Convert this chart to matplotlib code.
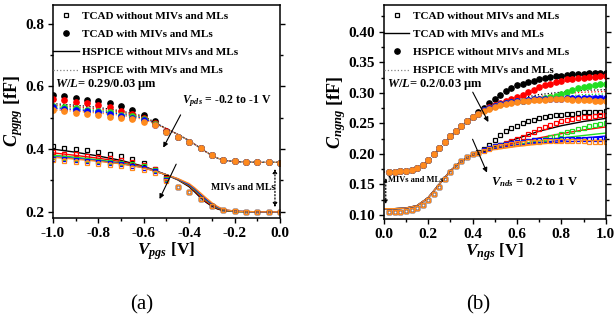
import numpy as np
import matplotlib
matplotlib.use('Agg')
import matplotlib.pyplot as plt
from matplotlib.lines import Line2D
from matplotlib.ticker import MultipleLocator, FormatStrFormatter

plt.rcParams['font.family'] = ['Liberation Serif', 'DejaVu Serif']
plt.rcParams['font.weight'] = 'bold'
plt.rcParams['axes.unicode_minus'] = False
plt.rcParams['mathtext.fontset'] = 'custom'
plt.rcParams['mathtext.rm'] = 'Liberation Serif:bold'
plt.rcParams['mathtext.it'] = 'Liberation Serif:italic:bold'
plt.rcParams['mathtext.bf'] = 'Liberation Serif:bold'

# Vpds / Vnds sweep colours (black -> orange)
colors = ['black', 'red', '#22dd22', 'blue', '#ff8a1c']

# ---------------- (a) PMOS: Cpgpg vs Vpgs ----------------
vpgs = [-1.0, -0.95, -0.9, -0.85, -0.8, -0.75, -0.7, -0.65, -0.6, -0.55, -0.5,
        -0.45, -0.4, -0.35, -0.3, -0.25, -0.2, -0.15, -0.1, -0.05, 0.0]

# TCAD without MIVs/MLs (open squares): per-colour head (-1..-0.5) + shared tail
a_sq_head = [
    [0.410, 0.405, 0.401, 0.396, 0.391, 0.386, 0.378, 0.368, 0.356, 0.338, 0.310],
    [0.390, 0.386, 0.383, 0.379, 0.375, 0.371, 0.366, 0.360, 0.350, 0.336, 0.307],
    [0.375, 0.372, 0.369, 0.366, 0.363, 0.360, 0.357, 0.353, 0.345, 0.332, 0.304],
    [0.370, 0.367, 0.364, 0.361, 0.358, 0.355, 0.352, 0.347, 0.340, 0.330, 0.302],
    [0.365, 0.362, 0.358, 0.355, 0.352, 0.348, 0.345, 0.340, 0.334, 0.325, 0.298],
]
a_sq_tail = [0.280, 0.262, 0.240, 0.217, 0.206, 0.202, 0.200, 0.200, 0.199, 0.198]

# TCAD with MIVs/MLs (filled circles)
a_ci_head = [
    [0.572, 0.569, 0.564, 0.558, 0.554, 0.547, 0.537, 0.526, 0.510, 0.490, 0.458],
    [0.559, 0.556, 0.550, 0.546, 0.541, 0.533, 0.523, 0.512, 0.500, 0.484, 0.457],
    [0.537, 0.533, 0.530, 0.525, 0.522, 0.517, 0.510, 0.505, 0.495, 0.480, 0.456],
    [0.533, 0.528, 0.525, 0.520, 0.517, 0.512, 0.506, 0.500, 0.492, 0.478, 0.456],
    [0.524, 0.520, 0.516, 0.512, 0.508, 0.504, 0.500, 0.495, 0.488, 0.476, 0.455],
]
a_ci_tail = [0.440, 0.423, 0.402, 0.382, 0.366, 0.361, 0.359, 0.358, 0.358, 0.357]

# HSPICE curves
vpgs_line = [-1.0, -0.9, -0.8, -0.7, -0.6, -0.5, -0.45, -0.4, -0.375, -0.35,
             -0.325, -0.3, -0.275, -0.25, -0.2, -0.1, 0.0]
a_hs_wo = [
    [0.400, 0.390, 0.378, 0.364, 0.345, 0.318, 0.302, 0.280, 0.263, 0.245, 0.230, 0.218, 0.209, 0.204, 0.201, 0.200, 0.200],
    [0.388, 0.380, 0.371, 0.360, 0.344, 0.318, 0.303, 0.283, 0.267, 0.249, 0.233, 0.221, 0.211, 0.205, 0.201, 0.200, 0.200],
    [0.381, 0.374, 0.366, 0.356, 0.342, 0.318, 0.304, 0.285, 0.270, 0.253, 0.237, 0.224, 0.213, 0.206, 0.201, 0.200, 0.200],
    [0.376, 0.370, 0.363, 0.354, 0.341, 0.318, 0.305, 0.287, 0.273, 0.256, 0.240, 0.226, 0.215, 0.207, 0.202, 0.200, 0.200],
    [0.374, 0.368, 0.361, 0.353, 0.340, 0.318, 0.306, 0.290, 0.276, 0.260, 0.244, 0.229, 0.217, 0.208, 0.202, 0.200, 0.200],
]
a_hs_w_head = [
    [0.545, 0.540, 0.533, 0.522, 0.505, 0.465],
    [0.540, 0.535, 0.528, 0.518, 0.502, 0.465],
    [0.535, 0.530, 0.524, 0.515, 0.500, 0.465],
    [0.530, 0.526, 0.520, 0.512, 0.498, 0.465],
    [0.525, 0.521, 0.515, 0.508, 0.495, 0.465],
]
a_hs_w_tail = [0.447, 0.427, 0.415, 0.403, 0.391, 0.380, 0.371, 0.365, 0.360, 0.358, 0.358]

# ---------------- (b) NMOS: Cngng vs Vngs ----------------
vngs = [0.025, 0.05, 0.075, 0.1, 0.125, 0.15, 0.175, 0.2, 0.225, 0.25,
        0.275, 0.3, 0.325, 0.35, 0.375, 0.4, 0.425, 0.45, 0.475, 0.5,
        0.525, 0.55, 0.575, 0.6, 0.625, 0.65, 0.675, 0.7, 0.725, 0.75,
        0.775, 0.8, 0.825, 0.85, 0.875, 0.9, 0.925, 0.95, 0.975, 1.0]

b_sq_head = [0.104, 0.104, 0.105, 0.106, 0.108, 0.111, 0.116, 0.124, 0.134, 0.146,
             0.158, 0.170, 0.180, 0.188, 0.194, 0.199]
b_sq_tail = [
    [0.203, 0.208, 0.215, 0.223, 0.230, 0.237, 0.242, 0.246, 0.250, 0.253, 0.256, 0.258,
     0.260, 0.262, 0.263, 0.264, 0.265, 0.266, 0.267, 0.268, 0.268, 0.269, 0.269, 0.270],
    [0.202, 0.206, 0.209, 0.212, 0.215, 0.218, 0.221, 0.224, 0.228, 0.232, 0.236, 0.240,
     0.244, 0.247, 0.250, 0.253, 0.255, 0.257, 0.259, 0.260, 0.261, 0.262, 0.263, 0.263],
    [0.202, 0.206, 0.209, 0.212, 0.214, 0.216, 0.218, 0.219, 0.220, 0.221, 0.222, 0.223,
     0.225, 0.227, 0.229, 0.232, 0.235, 0.238, 0.241, 0.243, 0.245, 0.247, 0.249, 0.250],
    [0.202, 0.206, 0.209, 0.212, 0.214, 0.216, 0.218, 0.219, 0.220, 0.221, 0.222, 0.222,
     0.223, 0.223, 0.223, 0.224, 0.224, 0.224, 0.224, 0.225, 0.225, 0.225, 0.225, 0.225],
    [0.201, 0.205, 0.208, 0.211, 0.213, 0.215, 0.216, 0.217, 0.218, 0.219, 0.220, 0.220,
     0.221, 0.221, 0.221, 0.221, 0.221, 0.221, 0.221, 0.221, 0.220, 0.220, 0.220, 0.220],
]

b_ci_head = [0.170, 0.170, 0.171, 0.172, 0.174, 0.177, 0.182, 0.190, 0.200, 0.210,
             0.220, 0.229, 0.238, 0.246, 0.253, 0.260]
b_ci_tail = [
    [0.268, 0.275, 0.283, 0.290, 0.297, 0.303, 0.308, 0.312, 0.315, 0.318, 0.320, 0.322,
     0.324, 0.326, 0.327, 0.328, 0.329, 0.330, 0.331, 0.331, 0.332, 0.332, 0.333, 0.333],
    [0.266, 0.271, 0.276, 0.280, 0.284, 0.287, 0.290, 0.293, 0.297, 0.301, 0.305, 0.309,
     0.312, 0.315, 0.318, 0.320, 0.322, 0.323, 0.324, 0.325, 0.326, 0.326, 0.327, 0.327],
    [0.266, 0.271, 0.275, 0.278, 0.281, 0.283, 0.285, 0.286, 0.287, 0.288, 0.289, 0.290,
     0.291, 0.293, 0.295, 0.298, 0.301, 0.304, 0.307, 0.309, 0.311, 0.313, 0.314, 0.315],
    [0.266, 0.271, 0.275, 0.278, 0.281, 0.283, 0.285, 0.286, 0.287, 0.288, 0.289, 0.289,
     0.290, 0.290, 0.290, 0.290, 0.291, 0.291, 0.291, 0.291, 0.291, 0.291, 0.292, 0.292],
    [0.265, 0.270, 0.274, 0.277, 0.280, 0.282, 0.284, 0.285, 0.286, 0.287, 0.288, 0.288,
     0.288, 0.289, 0.289, 0.289, 0.289, 0.288, 0.288, 0.288, 0.288, 0.287, 0.287, 0.287],
]

vngs_line = [0.0, 0.05, 0.1, 0.15, 0.2, 0.25, 0.3, 0.35, 0.4, 0.45, 0.5, 0.6, 0.7, 0.8, 0.9, 1.0]
b_hs_wo_head = [0.110, 0.110, 0.111, 0.115, 0.128, 0.150, 0.172, 0.188, 0.198, 0.205]
b_hs_wo_tail = [
    [0.212, 0.225, 0.237, 0.246, 0.253, 0.258],
    [0.210, 0.218, 0.226, 0.233, 0.239, 0.244],
    [0.209, 0.215, 0.221, 0.226, 0.230, 0.234],
    [0.208, 0.213, 0.218, 0.222, 0.226, 0.229],
    [0.207, 0.212, 0.216, 0.219, 0.221, 0.223],
]
vngs_dot = [0.0, 0.05, 0.1, 0.15, 0.2, 0.25, 0.3, 0.35, 0.4, 0.5, 0.6, 0.7, 0.8, 0.9, 1.0]
b_hs_w_head = [0.170, 0.170, 0.172, 0.176, 0.188, 0.208, 0.228, 0.245, 0.260]
b_hs_w_tail = [
    [0.278, 0.290, 0.297, 0.301, 0.304, 0.305],
    [0.277, 0.288, 0.294, 0.298, 0.301, 0.302],
    [0.276, 0.286, 0.291, 0.294, 0.297, 0.298],
    [0.275, 0.284, 0.289, 0.292, 0.294, 0.295],
    [0.274, 0.283, 0.286, 0.288, 0.289, 0.290],
]

legend_labels = ['TCAD without MIVs and MLs', 'TCAD with MIVs and MLs',
                 'HSPICE without MIVs and MLs', 'HSPICE with MIVs and MLs']

fig = plt.figure(figsize=(6.15, 3.26), dpi=100)
ax1 = fig.add_axes([0.0862, 0.331, 0.369, 0.654])
ax2 = fig.add_axes([0.624, 0.328, 0.361, 0.657])

ms_sq = 3.4
ms_ci = 3.8


def style_axes(ax):
    for s in ax.spines.values():
        s.set_linewidth(1.1)
    ax.tick_params(which='both', direction='out', left=True, bottom=True,
                   right=True, top=False, labelsize=11, width=1.0)
    ax.tick_params(which='major', length=3.5, pad=3)
    ax.tick_params(which='minor', length=2)
    for lab in ax.get_xticklabels() + ax.get_yticklabels():
        lab.set_fontweight('bold')


# ---- panel (a) ----
for i, c in enumerate(colors):
    ax1.plot(vpgs_line, np.concatenate([a_hs_w_head[i], a_hs_w_tail]), ':', color=c, lw=0.9)
for i, c in enumerate(colors):
    ax1.plot(vpgs_line, a_hs_wo[i], '-', color=c, lw=1.0)
for i, c in enumerate(colors):
    ax1.plot(vpgs, np.concatenate([a_sq_head[i], a_sq_tail]), 's', ms=ms_sq,
             mfc='none', mec=c, mew=0.9, ls='none')
for i, c in enumerate(colors):
    ax1.plot(vpgs, np.concatenate([a_ci_head[i], a_ci_tail]), 'o', ms=ms_ci,
             color=c, ls='none')

ax1.set_xlim(-1.0, 0.0)
ax1.set_ylim(0.18, 0.86)
ax1.xaxis.set_major_locator(MultipleLocator(0.2))
ax1.xaxis.set_minor_locator(MultipleLocator(0.1))
ax1.yaxis.set_major_locator(MultipleLocator(0.2))
ax1.yaxis.set_minor_locator(MultipleLocator(0.1))
ax1.xaxis.set_major_formatter(FormatStrFormatter('%.1f'))
ax1.yaxis.set_major_formatter(FormatStrFormatter('%.1f'))
style_axes(ax1)
ax1.set_xlabel(r'$V_{pgs}$ [V]', fontsize=12.5, fontweight='bold', labelpad=0)
ax1.set_ylabel(r'$C_{pgpg}$ [fF]', fontsize=13, fontweight='bold', labelpad=0)

h_sq = Line2D([], [], marker='s', ms=ms_sq, mfc='none', mec='k', mew=0.9, ls='none')
h_ci = Line2D([], [], marker='o', ms=ms_ci, color='k', ls='none')
h_solid = Line2D([], [], color='k', lw=1.0)
h_dot = Line2D([], [], color='gray', lw=0.9, ls=':')
leg_kw = dict(loc='upper left', frameon=False, handlelength=2.3,
              handletextpad=0.3, borderpad=0, borderaxespad=0, labelspacing=0.75,
              prop={'weight': 'bold', 'size': 8})
ax1.legend([h_sq, h_ci, h_solid, h_dot], legend_labels,
           bbox_to_anchor=(0.0, 0.97), **leg_kw)

ax1.text(-0.99, 0.605, r'$W/L$= 0.29/0.03 μm', fontsize=9, va='center', ha='left')
ax1.text(-0.43, 0.553, r'$V_{pds}$ = -0.2 to -1 V', fontsize=8.5, va='center', ha='left')
arr = dict(arrowstyle='-|>', color='k', lw=0.8, mutation_scale=7)
ax1.annotate('', xy=(-0.52, 0.397), xytext=(-0.432, 0.517), arrowprops=arr)
ax1.annotate('', xy=(-0.536, 0.233), xytext=(-0.452, 0.36), arrowprops=arr)
ax1.text(-0.163, 0.279, 'MIVs and MLs', fontsize=7, ha='center', va='center')
ax1.annotate('', xy=(-0.022, 0.346), xytext=(-0.022, 0.206),
             arrowprops=dict(arrowstyle='<|-|>', color='k', lw=0.9, ls=':', mutation_scale=6))

# ---- panel (b) ----
for i, c in enumerate(colors):
    ax2.plot(vngs_dot, np.concatenate([b_hs_w_head, b_hs_w_tail[i]]), ':', color=c, lw=0.9)
for i, c in enumerate(colors):
    ax2.plot(vngs_line, np.concatenate([b_hs_wo_head, b_hs_wo_tail[i]]), '-', color=c, lw=1.0)
for i, c in enumerate(colors):
    ax2.plot(vngs, np.concatenate([b_sq_head, b_sq_tail[i]]), 's', ms=ms_sq,
             mfc='none', mec=c, mew=0.9, ls='none')
for i, c in enumerate(colors):
    ax2.plot(vngs, np.concatenate([b_ci_head, b_ci_tail[i]]), 'o', ms=ms_ci,
             color=c, ls='none')

ax2.set_xlim(0.0, 1.0)
ax2.set_ylim(0.093, 0.444)
ax2.xaxis.set_major_locator(MultipleLocator(0.2))
ax2.xaxis.set_minor_locator(MultipleLocator(0.1))
ax2.yaxis.set_major_locator(MultipleLocator(0.05))
ax2.yaxis.set_minor_locator(MultipleLocator(0.025))
ax2.xaxis.set_major_formatter(FormatStrFormatter('%.1f'))
ax2.yaxis.set_major_formatter(FormatStrFormatter('%.2f'))
style_axes(ax2)
ax2.set_xlabel(r'$V_{ngs}$ [V]', fontsize=12.5, fontweight='bold', labelpad=0)
ax2.set_ylabel(r'$C_{ngng}$ [fF]', fontsize=13, fontweight='bold', labelpad=0)

ax2.legend([h_sq, h_solid, h_ci, h_dot], legend_labels,
           bbox_to_anchor=(0.0, 0.97), **leg_kw)

ax2.text(0.015, 0.313, r'$W/L$= 0.2/0.03 μm', fontsize=9, va='center', ha='left')
ax2.annotate('', xy=(0.477, 0.248), xytext=(0.395, 0.305), arrowprops=arr)
ax2.annotate('', xy=(0.47, 0.165), xytext=(0.395, 0.228), arrowprops=arr)
ax2.text(0.485, 0.154, r'$V_{nds}$ = 0.2 to 1 V', fontsize=9, va='center', ha='left')
ax2.text(0.02, 0.157, 'MIVs and MLs', fontsize=6, va='center', ha='left')
ax2.annotate('', xy=(0.009, 0.165), xytext=(0.009, 0.113),
             arrowprops=dict(arrowstyle='<|-|>', color='k', lw=0.9, ls=':', mutation_scale=5))

fig.text(142 / 615, 1 - 305 / 326, '(a)', fontsize=15, fontweight='normal', ha='center', va='center')
fig.text(478 / 615, 1 - 305 / 326, '(b)', fontsize=15, fontweight='normal', ha='center', va='center')

fig.savefig('out.png', dpi=100)
